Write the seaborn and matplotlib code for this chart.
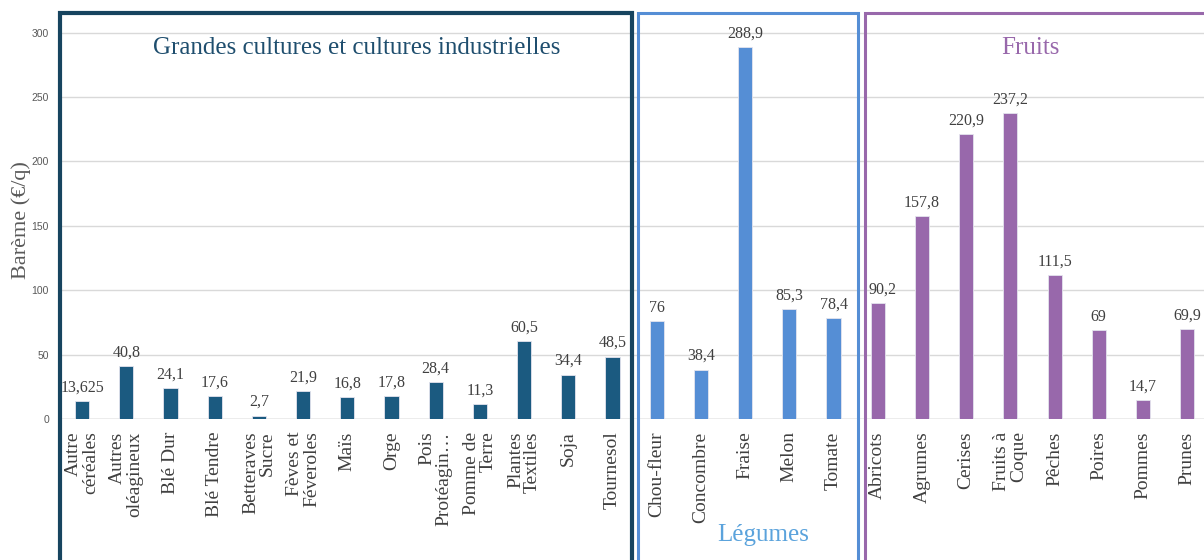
import matplotlib
matplotlib.use("Agg")
import matplotlib.pyplot as plt
import matplotlib.transforms as mtransforms
from matplotlib.patches import Rectangle
import seaborn as sns
import pandas as pd

# ---- data ----
grandes_labels = ["Autre\ncéréales", "Autres\noléagineux", "Blé Dur", "Blé Tendre",
                  "Betteraves\nSucre", "Fèves et\nFéveroles", "Maïs", "Orge",
                  "Pois\nProtéagin…", "Pomme de\nTerre", "Plantes\nTextiles", "Soja", "Tournesol"]
grandes_values = [13.625, 40.8, 24.1, 17.6, 2.7, 21.9, 16.8, 17.8, 28.4, 11.3, 60.5, 34.4, 48.5]

legumes_labels = ["Chou-fleur", "Concombre", "Fraise", "Melon", "Tomate"]
legumes_values = [76, 38.4, 288.9, 85.3, 78.4]

fruits_labels = ["Abricots", "Agrumes", "Cerises", "Fruits à\nCoque", "Pêches",
                 "Poires", "Pommes", "Prunes"]
fruits_values = [90.2, 157.8, 220.9, 237.2, 111.5, 69, 14.7, 69.9]

group_names = ["Grandes cultures et cultures industrielles", "Légumes", "Fruits"]
y_ticks = [0, 50, 100, 150, 200, 250, 300]

# ---- styling ----
c_grandes = "#1B5A80"
c_leg = "#558ED5"
c_fruit = "#9868AB"
box_grandes = "#17445F"
label_nudge = {"Abricots": 5}

categories = grandes_labels + legumes_labels + fruits_labels
values = grandes_values + legumes_values + fruits_values
groups = ([group_names[0]] * len(grandes_labels) + [group_names[1]] * len(legumes_labels)
          + [group_names[2]] * len(fruits_labels))
df = pd.DataFrame({"cat": categories, "val": values, "grp": groups})

sns.set_theme(style="white")
plt.rcParams["font.family"] = ["Liberation Serif", "DejaVu Serif"]

fig = plt.figure(figsize=(12.04, 5.6), dpi=100)
ax = fig.add_axes([60 / 1204, 141 / 560, 1 - 60 / 1204, 407 / 560])

sns.barplot(data=df, x="cat", y="val", hue="grp", dodge=False, width=0.32,
            palette=[c_grandes, c_leg, c_fruit], hue_order=group_names, saturation=1,
            edgecolor="#e4e4ee", linewidth=0.6, legend=False, ax=ax, zorder=3)

ax.set_ylim(0, 316)
ax.set_xlim(-0.5, 25.38)
ax.set_yticks(y_ticks)
ax.set_yticklabels([str(t) for t in y_ticks], fontfamily="Liberation Sans",
                   fontsize=7.5, color="#595959")
ax.grid(axis="y", color="#d9d9d9", linewidth=1, zorder=0)
ax.grid(axis="x", visible=False)
ax.axhline(0, color="#bfbfbf", linewidth=1, zorder=2)
for s in ax.spines.values():
    s.set_visible(False)
ax.tick_params(axis="y", length=0, pad=8)
ax.tick_params(axis="x", length=0, pad=9)
ax.set_xticks(range(len(categories)))
ax.set_xticklabels(categories, rotation=90, fontsize=14, color="#404040",
                   va="top", ha="center", multialignment="right", linespacing=1.0)
ax.set_xlabel("")
ax.set_ylabel("Barème (€/q)", fontsize=16, color="#595959")
ax.yaxis.set_label_coords(-0.0255, 0.49)

# value labels
for i, (c, v) in enumerate(zip(categories, values)):
    lab = f"{v:g}".replace(".", ",")
    ax.annotate(lab, (i, v), xytext=(label_nudge.get(c, 0) * 0.72, 4),
                textcoords="offset points",
                ha="center", va="bottom", fontsize=11.5, color="#404040", zorder=4)

# group boxes
trans = mtransforms.blended_transform_factory(ax.transData, ax.transAxes)
boxes = [(-0.5, 12.44, box_grandes, 3.0), (12.58, 17.56, c_leg, 2.2),
         (17.71, 26.0, c_fruit, 2.2)]
for x0, x1, col, lw in boxes:
    r = Rectangle((x0, -0.5), x1 - x0, 1.5 - 0.003, transform=trans, fill=False,
                  edgecolor=col, linewidth=lw, clip_on=False, zorder=5)
    ax.add_patch(r)

# group titles
ax.text(6.22, 288, group_names[0], ha="center", va="center", fontsize=18,
        color="#1F4E6E", zorder=6)
ax.text(21.45, 288, group_names[2], ha="center", va="center", fontsize=18,
        color=c_fruit, zorder=6)
ax.text(15.4, -0.285, group_names[1], transform=trans, ha="center", va="center",
        fontsize=18, color="#5BA3DC", zorder=6)

fig.savefig("out.png", dpi=100)
